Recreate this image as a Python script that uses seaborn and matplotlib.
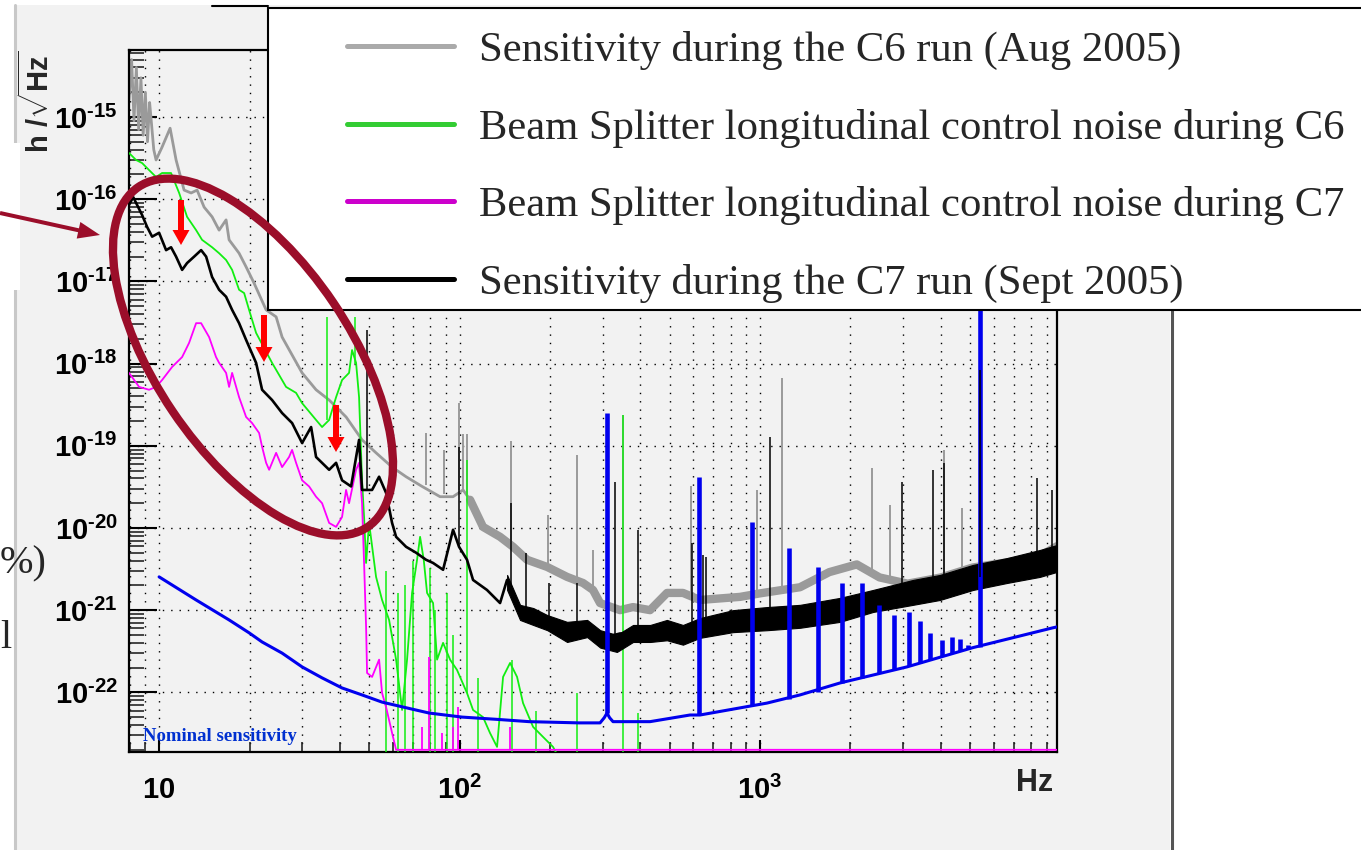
import matplotlib
matplotlib.use("Agg")
import numpy as np
import seaborn as sns
import matplotlib.pyplot as plt
from matplotlib.patches import Rectangle, Ellipse, FancyArrow
from matplotlib.lines import Line2D
from matplotlib.transforms import Affine2D
from matplotlib.ticker import FixedLocator, FixedFormatter, LogLocator, NullFormatter

W, H, DPI = 1361, 850, 100

# ---------------- data ----------------
# Sensitivity during C6 (grey)
c6_f = [7.94, 8.1, 8.25, 8.4, 8.55, 8.7, 8.85, 9.0, 9.15, 9.3, 9.41, 9.6, 9.77, 10.23, 10.88, 11.39,
        12.11, 12.78, 13.38, 14.12, 15.01, 15.84, 16.71, 17.10, 18.46, 19.48, 20.71, 22.71, 24.52,
        25.67, 29.92, 33.30, 36.81, 41.91, 47.37, 52.74, 59.63, 66.37, 75.04, 86.14, 95.15, 102.7,
        108.4, 119.7, 136.4, 150.7, 167.8, 195.5, 227.9, 257.6, 278.1, 293.5, 342.2, 377.9, 430.6,
        490.4, 554.3, 631.4, 858, 1000, 1359, 1700, 2100, 2500, 3100, 4000, 5100, 6600, 8500, 9737]
c6_h = [1.6e-15, 5e-15, 9e-16, 4e-15, 7e-16, 3e-15, 6e-16, 2e-15, 5e-16, 1.5e-15, 9.2e-16, 4e-16,
        3.0e-16, 4.3e-16, 7.3e-16, 3.0e-16, 1.29e-16, 1.19e-16, 1.29e-16, 8.0e-17, 6.1e-17, 4.2e-17,
        5.6e-17, 3.2e-17, 2.2e-17, 1.5e-17, 9.5e-18, 4.5e-18, 3.7e-18, 2.1e-18, 7.7e-19, 4.8e-19,
        3.6e-19, 2.24e-19, 1.18e-19, 8.2e-20, 5.5e-20, 4.2e-20, 3.2e-20, 2.4e-20, 2.4e-20, 2.9e-20,
        2.2e-20, 1.03e-20, 7.8e-21, 5.9e-21, 4.1e-21, 3.36e-21, 2.54e-21, 2.14e-21, 1.76e-21,
        1.22e-21, 1.0e-21, 1.09e-21, 1.0e-21, 1.62e-21, 1.62e-21, 1.33e-21, 1.45e-21, 1.6e-21,
        1.9e-21, 2.9e-21, 3.6e-21, 2.5e-21, 2.1e-21, 2.5e-21, 3.3e-21, 3.8e-21, 4.5e-21, 6e-21]
c6_spike_f = [77.37, 88.82, 99.61, 102.7, 105.9, 148.4, 197.0, 246.0, 278.1, 350.1, 589.4, 977.3,
              1184, 2359, 2708, 4096, 4701]
c6_spike_top = [1.43e-19, 8.9e-20, 3.3e-19, 1.38e-19, 1.4e-19, 1.15e-19, 1.44e-20, 7.7e-20, 5.4e-21,
                2.37e-19, 3.2e-20, 2.9e-20, 6.7e-19, 5.4e-20, 1.9e-20, 8.9e-20, 1.75e-20]
c6_spike_base = [3.3e-20, 2.6e-20, 2.9e-20, 2.9e-20, 2.6e-20, 6.2e-21, 3.4e-21, 2.5e-21, 1.8e-21,
                 1.1e-21, 1.5e-21, 1.6e-21, 1.8e-21, 2.6e-21, 2.4e-21, 2.5e-21, 3.0e-21]

# Sensitivity during C7 (black)
c7_f = [7.94, 8.2, 8.78, 9.12, 9.48, 10.0, 10.55, 10.96, 11.39, 11.93, 12.39, 13.08, 13.80, 14.34,
        15.01, 15.84, 16.71, 17.50, 18.46, 19.48, 21.03, 22.02, 23.77, 25.67, 27.71, 29.92, 32.06,
        33.30, 36.81, 38.82, 40.64, 43.55, 46.30, 47.37, 51.15, 53.98, 56.95, 59.63, 61.49, 66.37,
        71.65, 77.37, 81.64, 88.14, 95.15, 99.61, 105.9, 110.9, 123.4, 136.4, 143.9, 150.7, 159.0,
        175.7, 204.7, 238.6, 266, 300, 342, 400, 500, 631, 813, 1055, 1359, 1846, 2377, 3230, 3972,
        5114, 6637, 8548, 9737]
c7_h = [8.5e-17, 1.06e-16, 6.4e-17, 4.6e-17, 3.5e-17, 3.9e-17, 2.4e-17, 2.6e-17, 2.0e-17, 1.38e-17,
        1.67e-17, 2.0e-17, 2.4e-17, 2.0e-17, 1.13e-17, 7.9e-18, 6.5e-18, 4.5e-18, 3.1e-18, 1.94e-18,
        1.02e-18, 4.8e-19, 3.6e-19, 2.5e-19, 1.89e-19, 1.08e-19, 1.69e-19, 7.3e-20, 5.1e-20, 6.2e-20,
        3.8e-20, 3.2e-20, 1.18e-19, 2.9e-20, 2.9e-20, 4.2e-20, 2.67e-20, 1.15e-20, 7.8e-21, 5.9e-21,
        5.0e-21, 4.1e-21, 3.75e-21, 3.1e-21, 9.5e-21, 5.9e-21, 4.1e-21, 2.33e-21, 1.76e-21, 1.22e-21,
        2.33e-21, 1.62e-21, 9.2e-22, 8.5e-22, 7.0e-22, 5.6e-22, 6.0e-22, 4.6e-22, 5.2e-22, 5.2e-22,
        6.0e-22, 6.0e-22, 7.4e-22, 7.9e-22, 8.5e-22, 1.0e-21, 1.3e-21, 1.65e-21, 1.9e-21, 2.5e-21,
        3.1e-21, 3.7e-21, 4.2e-21]
c7_band_f = [144, 159, 176, 196, 228, 266, 294, 334, 378, 431, 490, 554, 631, 813, 1055, 1359, 1846,
             2377, 3230, 3972, 5114, 6637, 8548, 9737]
c7_band_hi = [2.68e-21, 1.16e-21, 1.06e-21, 8.7e-22, 7.2e-22, 7.6e-22, 5.7e-22, 5.0e-22, 6.6e-22,
              6.6e-22, 7.6e-22, 6.6e-22, 8.0e-22, 1.0e-21, 1.09e-21, 1.16e-21, 1.41e-21, 1.76e-21,
              2.33e-21, 2.68e-21, 3.55e-21, 4.3e-21, 5.4e-21, 6.2e-21]
c7_band_lo = [1.76e-21, 7.6e-22, 6.6e-22, 5.7e-22, 4.1e-22, 4.7e-22, 3.5e-22, 3.1e-22, 4.1e-22,
              4.1e-22, 4.3e-22, 3.8e-22, 4.6e-22, 5.4e-22, 5.7e-22, 6.1e-22, 7.2e-22, 9.5e-22,
              1.16e-21, 1.33e-21, 1.76e-21, 2.14e-21, 2.54e-21, 2.92e-21]
c7_spike_f = [49.23, 99.61, 148.4, 166.5, 198.5, 246.0, 329.3, 392.7, 593.9, 646.1, 661.2, 1080,
              2969, 3765, 4096, 5396, 8354, 9370]
c7_spike_top = [2.56e-18, 9.7e-20, 2.0e-20, 5.0e-21, 2.14e-21, 2.14e-21, 3.6e-20, 9.5e-21, 6.6e-21,
                4.7e-21, 4.4e-21, 1.28e-19, 3.6e-20, 5.1e-20, 6.2e-20, 8.4e-19, 4.1e-20, 2.9e-20]
c7_spike_base = [2.9e-20, 5.9e-21, 1.76e-21, 8.7e-22, 6.6e-22, 5.4e-22, 4.3e-22, 5.0e-22, 6.1e-22,
                 6.1e-22, 6.1e-22, 7.6e-22, 1.33e-21, 1.76e-21, 1.8e-21, 2.5e-21, 3.0e-21, 3.0e-21]

# Beam splitter longitudinal control noise during C6 (green)
bs6_f = [7.94, 8.38, 8.78, 9.26, 9.77, 10.23, 10.96, 11.66, 12.39, 13.28, 13.90, 15.01, 15.84, 16.71,
         17.50, 18.46, 19.19, 19.93, 21.03, 23.77, 26.46, 28.57, 29.92, 33.30, 34.87, 36.81, 38.82,
         40.64, 42.88, 43.88, 45.25, 46.30, 47.37, 48.11, 48.86, 49.99, 52.74, 55.23, 58.28, 61.49,
         64.38, 66.88, 69.50, 72.21, 73.90, 76.0, 77.97, 81.64, 84.18, 88.14, 93.00, 98.10, 105.9,
         110.9, 119.7, 126.3, 133.3, 139.6, 147.3, 155.4, 162.7, 175.7, 189.6, 204.7, 216.0]
bs6_h = [3.65e-16, 3.0e-16, 2.75e-16, 2.26e-16, 1.86e-16, 2.08e-16, 2.08e-16, 1.19e-16, 6.1e-17,
         4.2e-17, 3.2e-17, 2.6e-17, 2.2e-17, 1.82e-17, 1.38e-17, 7.9e-18, 7.2e-18, 4.5e-18, 2.36e-18,
         1.02e-18, 5.2e-19, 4.4e-19, 3.3e-19, 2.06e-19, 1.69e-19, 2.06e-19, 3.9e-19, 6.3e-19, 7.7e-19,
         1.46e-18, 1.02e-18, 3.9e-19, 3.8e-20, 1.36e-20, 3.75e-21, 1.15e-20, 2.54e-21, 1.33e-21,
         7.6e-22, 2.5e-22, 6.1e-23, 2.5e-22, 1.62e-21, 4.1e-21, 7.8e-21, 4.1e-21, 1.62e-21, 1.22e-21,
         2.5e-22, 4.0e-22, 2.5e-22, 1.87e-22, 9.8e-23, 6.1e-23, 5.0e-23, 3.2e-23, 2.17e-23, 1.54e-22,
         2.28e-22, 1.54e-22, 7.4e-23, 3.8e-23, 2.87e-23, 2.17e-23, 1.5e-23]
bs6_spike_f = [36.24, 44.90, 57.0, 62.5, 66.0, 70.0, 80.0, 83.0, 91.0, 95.0, 105.9, 115.0, 150.0,
               180.0, 246.0, 350.1, 392.7]
bs6_spike_top = [3.7e-18, 3.7e-18, 3.0e-21, 1.6e-21, 2.0e-21, 4.0e-21, 3.3e-21, 1.0e-21, 1.6e-21,
                 5.0e-22, 6.7e-20, 1.5e-22, 2.5e-22, 6.0e-23, 9.8e-23, 2.37e-19, 5.6e-23]
bs6_spike_base = [2.06e-19, 1.0e-18, 1.5e-23, 1.5e-23, 1.5e-23, 1.5e-23, 1.5e-23, 1.5e-23, 1.5e-23,
                  1.5e-23, 9.8e-23, 1.5e-23, 1.5e-23, 1.5e-23, 1.5e-23, 1.5e-23, 1.5e-23]

# Beam splitter longitudinal control noise during C7 (magenta)
bs7_f = [7.94, 8.58, 9.26, 9.77, 10.23, 11.05, 11.93, 12.58, 13.28, 13.80, 14.67, 15.47, 15.84,
         16.71, 17.10, 17.50, 18.46, 19.48, 20.39, 21.52, 22.02, 22.71, 23.24, 24.52, 25.67, 27.08,
         27.71, 28.57, 29.92, 31.57, 33.30, 34.87, 36.81, 38.82, 40.64, 41.91, 42.88, 45.25, 46.30,
         47.37, 48.11, 48.86, 49.23, 51.15, 53.98, 55.23, 56.95, 59.63, 61.49, 100, 1000, 9737]
bs7_h = [7.7e-19, 5.2e-19, 4.8e-19, 5.2e-19, 6.3e-19, 9.1e-19, 1.2e-18, 1.78e-18, 3.1e-18, 3.1e-18,
         2.1e-18, 1.2e-18, 1.02e-18, 7.7e-19, 5.2e-19, 7.7e-19, 3.9e-19, 2.24e-19, 1.89e-19, 1.43e-19,
         9.7e-20, 6.2e-20, 5.1e-20, 8.2e-20, 5.5e-20, 7.3e-20, 8.9e-20, 6.2e-20, 3.8e-20, 3.2e-20,
         2.4e-20, 2.0e-20, 1.15e-20, 1.03e-20, 1.36e-20, 2.9e-20, 2.0e-20, 5.1e-20, 6.2e-20, 2.0e-20,
         3.75e-21, 6.25e-22, 1.72e-22, 1.54e-22, 2.5e-22, 9.8e-23, 6.6e-23, 3.2e-23, 2.0e-23, 2.0e-23,
         2.0e-23, 2.0e-23]
bs7_spike_f = [75.0, 79.2, 87.5, 95.2, 98.8, 147.0]
bs7_spike_top = [3.8e-23, 2.7e-22, 3.2e-23, 3.8e-23, 6.6e-23, 3.8e-23]
bs7_spike_base = [2.0e-23, 2.0e-23, 2.0e-23, 2.0e-23, 2.0e-23, 2.0e-23]

# Nominal sensitivity (blue)
nom_f = [10.0, 13.28, 17.10, 19.93, 22.02, 25.67, 29.92, 34.87, 40.64, 47.37, 55.23, 66.37, 79.18,
         101.9, 132.2, 170.4, 249.9, 293.5, 303, 309.6, 316, 324.2, 430.6, 584.8, 631.4, 1055, 1359,
         1846, 3085, 5114, 9441, 9737]
nom_h = [2.54e-21, 1.33e-21, 7.6e-22, 5.3e-22, 4.1e-22, 3.0e-22, 2.04e-22, 1.5e-22, 1.13e-22, 9.3e-23,
         7.6e-23, 6.5e-23, 5.6e-23, 5.0e-23, 4.7e-23, 4.4e-23, 4.25e-23, 4.25e-23, 4.9e-23, 5.6e-23,
         4.9e-23, 4.4e-23, 4.4e-23, 5.3e-23, 5.3e-23, 7.4e-23, 9.3e-23, 1.3e-22, 2.04e-22, 3.5e-22,
         6.1e-22, 6.25e-22]
nom_spike_f = [309.6, 626.6, 940.6, 1249, 1560, 1875, 2185, 2489, 2792, 3132, 3409, 3679, 4034, 4355,
               4630, 4923, 5396]
nom_spike_top = [2.5e-19, 4.2e-20, 1.18e-20, 5.7e-21, 3.36e-21, 2.14e-21, 2.14e-21, 1.16e-21, 8.7e-22,
                 9.5e-22, 7.4e-22, 5.3e-22, 4.3e-22, 4.7e-22, 4.5e-22, 3.8e-22, 2.4e-17]
nom_spike_base = [5.6e-23, 5.3e-23, 7.0e-23, 8.3e-23, 1.0e-22, 1.3e-22, 1.5e-22, 1.7e-22, 1.9e-22,
                  2.1e-22, 2.3e-22, 2.5e-22, 2.8e-22, 3.0e-22, 3.2e-22, 3.4e-22, 3.6e-22]

legend_labels = ["Sensitivity during the C6 run (Aug 2005)",
                 "Beam Splitter longitudinal control noise during C6",
                 "Beam Splitter longitudinal control noise during C7",
                 "Sensitivity during the C7 run (Sept 2005)"]
x_ticks = [10, 100, 1000]
x_tick_labels = [r"$10$", r"$10^{2}$", r"$10^{3}$"]
y_ticks = [1e-22, 1e-21, 1e-20, 1e-19, 1e-18, 1e-17, 1e-16, 1e-15]
y_tick_labels = [r"$10^{\text{-}22}$", r"$10^{\text{-}21}$", r"$10^{\text{-}20}$",
                 r"$10^{\text{-}19}$", r"$10^{\text{-}18}$", r"$10^{\text{-}17}$",
                 r"$10^{\text{-}16}$", r"$10^{\text{-}15}$"]

# ---------------- style ----------------
sns.set_theme(style="white")
plt.rcParams.update({
    "font.family": ["Liberation Sans", "DejaVu Sans"],
    "mathtext.fontset": "custom",
    "mathtext.rm": "Liberation Sans:bold",
    "mathtext.bf": "Liberation Sans:bold",
    "mathtext.it": "Liberation Sans:bold",
    "mathtext.sf": "Liberation Sans:bold",
    "mathtext.default": "rm",
})

GREY, BLACK, GREEN, MAGENTA, BLUE = "#9a9a9a", "#000000", "#11ee11", "#ff00ff", "#0000ee"
LEG_COLORS = ["#aaaaaa", "#33cc33", "#cc00cc", "#000000"]
DARKRED = "#9b0e2a"

fig = plt.figure(figsize=(W / DPI, H / DPI), dpi=DPI, facecolor="white")
pix = Affine2D().scale(1, -1).translate(0, H)   # image-pixel coordinates (y down)

# ROOT canvas panel behind the plot
fig.add_artist(Rectangle((16, 5), 1154, 850, transform=pix, facecolor="#f2f2f2",
                         edgecolor="none", zorder=-5))
fig.add_artist(Line2D([14.5, 14.5], [5, 850], transform=pix, color="#c8c8c8", lw=2.2, zorder=-4))
fig.add_artist(Rectangle((0, 143), 20, 147, transform=pix, facecolor="white",
                         edgecolor="none", zorder=-3))
fig.add_artist(Line2D([1171.5, 1171.5], [310, 850], transform=pix, color="#555555", lw=2.2, zorder=-4))
fig.add_artist(Line2D([212, 268], [6, 6], transform=pix, color="black", lw=1.5, zorder=-4))

ax = fig.add_axes([129 / W, (H - 752) / H, (1057 - 129) / W, (752 - 50) / H])
ax.set_facecolor("#f2f2f2")


def curve(f, h, color, lw, z):
    sns.lineplot(x=f, y=h, ax=ax, color=color, lw=lw, estimator=None, sort=False,
                 zorder=z, legend=False)


# grey C6: thin line + noisy band drawn thicker above ~110 Hz
curve(c6_f, c6_h, GREY, 2.0, 2)
hf = [i for i, f in enumerate(c6_f) if f >= 108]
curve([c6_f[i] for i in hf], [c6_h[i] for i in hf], GREY, 6.0, 2)
ax.vlines(c6_spike_f, c6_spike_base, c6_spike_top, colors=GREY, lw=1.4, zorder=2)

# green and magenta BS control noise
curve(bs6_f, bs6_h, GREEN, 1.3, 3)
ax.vlines(bs6_spike_f, bs6_spike_base, bs6_spike_top, colors=GREEN, lw=1.1, zorder=3)
curve(bs7_f, bs7_h, MAGENTA, 1.3, 3)
ax.vlines(bs7_spike_f, bs7_spike_base, bs7_spike_top, colors=MAGENTA, lw=1.3, zorder=3)

# black C7
curve(c7_f, c7_h, BLACK, 1.9, 4)
ax.fill_between(c7_band_f, c7_band_lo, c7_band_hi, color=BLACK, lw=0.8, zorder=4)

# blue nominal sensitivity
curve(nom_f, nom_h, BLUE, 2.2, 5)
ax.vlines(nom_spike_f, nom_spike_base, nom_spike_top, colors=BLUE, lw=3.3, zorder=5)
ax.vlines(c7_spike_f, c7_spike_base, c7_spike_top, colors=BLACK, lw=1.1, zorder=6)

ax.set_xscale("log")
ax.set_yscale("log")
ax.set_xlim(7.94, 9740)
ax.set_ylim(1.88e-23, 6.53e-15)

# ticks & grid (ROOT look)
ax.xaxis.set_major_locator(FixedLocator(x_ticks))
ax.xaxis.set_major_formatter(FixedFormatter(x_tick_labels))
ax.xaxis.set_minor_locator(LogLocator(base=10, subs=np.arange(2, 10), numticks=30))
ax.xaxis.set_minor_formatter(NullFormatter())
ax.yaxis.set_major_locator(FixedLocator(y_ticks))
ax.yaxis.set_major_formatter(FixedFormatter(y_tick_labels))
ax.yaxis.set_minor_locator(LogLocator(base=10, subs=np.arange(2, 10), numticks=30))
ax.yaxis.set_minor_formatter(NullFormatter())

ax.tick_params(axis="y", which="major", direction="in", length=20, width=1.5, left=True,
               right=False, pad=8, labelsize=21, colors="black")
ax.tick_params(axis="y", which="minor", direction="in", length=10.5, width=1.2, left=True, right=False)
ax.tick_params(axis="x", which="major", direction="in", length=8.5, width=1.5, bottom=True,
               top=False, pad=17, labelsize=21, colors="black")
ax.tick_params(axis="x", which="minor", direction="in", length=7, width=1.2, bottom=True, top=False)

dots = (0, (1, 5))
ax.grid(True, which="major", axis="both", color="black", ls=dots, lw=1.0)
ax.grid(True, which="minor", axis="x", color="black", ls=dots, lw=1.0)
ax.set_axisbelow(True)
for s in ax.spines.values():
    s.set_color("black")
    s.set_linewidth(1.6)

ax.set_ylabel(r"$h\ /\sqrt{Hz}$", fontsize=21, va="center")
ax.yaxis.set_label_coords((37 - 129) / 928, (752 - 102) / 702)
ax.set_xlabel("Hz", fontsize=22, fontweight="bold")
ax.xaxis.set_label_coords((1035 - 129) / 928, (752 - 768) / 702)

fig.text(143, 741, "Nominal sensitivity", transform=pix, color="#0030d0", fontsize=13.5,
         family="Liberation Serif", fontweight="bold", va="baseline", zorder=7)

# legend box
fig.add_artist(Rectangle((268, 8), 1120, 302, transform=pix, facecolor="white",
                         edgecolor="black", lw=1.5, zorder=8))
handles = [Line2D([], [], color=c, lw=3.6) for c in LEG_COLORS]
leg = fig.legend(handles, legend_labels, loc="upper left", bbox_to_anchor=(347 / W, 1 - 31 / H),
                 frameon=False, borderpad=0, borderaxespad=0, handlelength=2.5,
                 handletextpad=0.6, labelspacing=0.907,
                 prop={"family": "Liberation Serif", "size": 30.7})
leg.set_zorder(9)

# annotations: ellipse and arrows
fig.add_artist(Ellipse((253, 357), 410, 194, angle=56, transform=pix, fill=False,
                       edgecolor=DARKRED, lw=6.0, zorder=10))
for (x0, y0, y1) in [(181, 200, 245), (264, 315, 362), (336, 405, 452)]:
    fig.add_artist(FancyArrow(x0, y0, 0, y1 - y0, width=6, head_width=17, head_length=15,
                              length_includes_head=True, transform=pix, color="#ff0000",
                              lw=0, zorder=11))
fig.add_artist(FancyArrow(0, 213, 100, 22, width=4, head_width=17, head_length=22,
                          length_includes_head=True, transform=pix, color=DARKRED, lw=0, zorder=11))

# fragments of slide text at the left edge
fig.text(0, 573, "%)", transform=pix, family="Liberation Serif", fontsize=29, va="baseline")
fig.text(0, 648, "l", transform=pix, family="Liberation Serif", fontsize=29, va="baseline")

fig.savefig("out.png", dpi=DPI, facecolor="white")
